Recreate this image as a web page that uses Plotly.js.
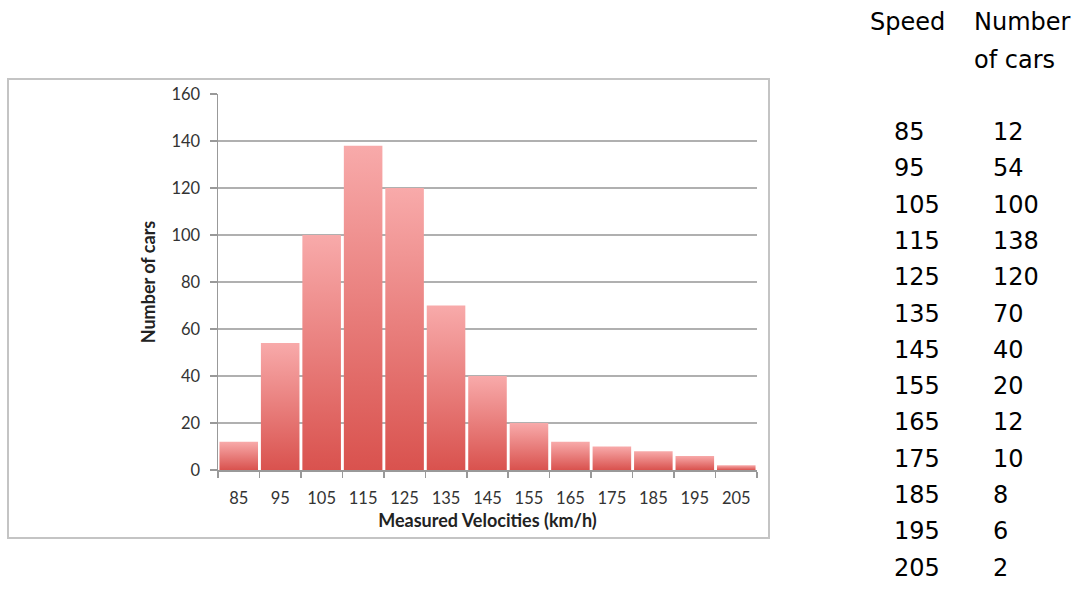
<!DOCTYPE html>
<html>
<head>
<meta charset="utf-8">
<script src="https://cdn.plot.ly/plotly-3.0.1.min.js"></script>
<style>
html,body{margin:0;padding:0;background:#fff;}
#chart{width:1075px;height:590px;}
</style>
</head>
<body>
<div id="chart"></div>
<script>
// ---- data ----
const speeds = ["85","95","105","115","125","135","145","155","165","175","185","195","205"];
const cars = [12, 54, 100, 138, 120, 70, 40, 20, 12, 10, 8, 6, 2];
const yTicks = [0, 20, 40, 60, 80, 100, 120, 140, 160];
const headerSpeed = "Speed";
const headerCars1 = "Number";
const headerCars2 = "of cars";
const xTitle = "Measured Velocities (km/h)";
const yTitle = "Number of cars";

// ---- geometry helpers (pixel -> paper) ----
const W = 1075, H = 590;
const L = 218, R = 757, T = 94, B = 470;
const px = x => (x - L) / (R - L);
const py = y => (B - y) / (B - T);

const annotations = [];
const tFont = {family: "DejaVu Sans", size: 24, color: "#000"};
annotations.push({xref:"paper", yref:"paper", x:px(869), y:py(22), xanchor:"left", yanchor:"middle", text:headerSpeed, showarrow:false, font:tFont, borderpad:0});
annotations.push({xref:"paper", yref:"paper", x:px(973), y:py(22), xanchor:"left", yanchor:"middle", text:headerCars1, showarrow:false, font:tFont, borderpad:0});
annotations.push({xref:"paper", yref:"paper", x:px(973), y:py(60), xanchor:"left", yanchor:"middle", text:headerCars2, showarrow:false, font:tFont, borderpad:0});
speeds.forEach((s, i) => {
  const yc = 132 + 36.3 * i;
  annotations.push({xref:"paper", yref:"paper", x:px(893), y:py(yc), xanchor:"left", yanchor:"middle", text:s, showarrow:false, font:tFont, borderpad:0});
  annotations.push({xref:"paper", yref:"paper", x:px(992), y:py(yc), xanchor:"left", yanchor:"middle", text:String(cars[i]), showarrow:false, font:tFont, borderpad:0});
});

const data = [{
  type: "bar",
  x: speeds,
  y: cars,
  marker: {color: "#e77773", line: {width: 0}},
  hoverinfo: "x+y"
}];

const layout = {
  width: W, height: H,
  margin: {l: L, r: W - R, t: T, b: H - B, pad: 0},
  paper_bgcolor: "#fff",
  plot_bgcolor: "#fff",
  showlegend: false,
  bargap: 0.07,
  font: {family: "Lato", color: "#333"},
  xaxis: {
    type: "category",
    tickson: "boundaries",
    ticks: "outside",
    ticklen: 6,
    tickcolor: "#999",
    tickwidth: 1.5,
    showline: true,
    linecolor: "#999",
    linewidth: 1.5,
    showgrid: false,
    tickfont: {family: "Lato", size: 16.5, color: "#333"},
    ticklabelstandoff: 13,
    title: {text: xTitle, font: {family: "Lato", size: 18, color: "#222", weight: "bold"}, standoff: 7},
    fixedrange: true
  },
  yaxis: {
    range: [0, 160],
    tickvals: yTicks,
    ticks: "outside",
    ticklen: 7,
    tickcolor: "#999",
    tickwidth: 1.5,
    showline: true,
    linecolor: "#999",
    linewidth: 1.5,
    showgrid: true,
    gridcolor: "#b0b0b0",
    gridwidth: 1.6,
    zeroline: false,
    tickfont: {family: "Lato", size: 16.5, color: "#333"},
    ticklabelstandoff: 6,
    title: {text: yTitle, font: {family: "Lato", size: 18, color: "#222", weight: "bold"}, standoff: 11},
    fixedrange: true
  },
  shapes: [{
    type: "rect", xref: "paper", yref: "paper",
    x0: px(8), x1: px(769), y0: py(538), y1: py(79),
    line: {color: "#c4c4c4", width: 2},
    fillcolor: "rgba(0,0,0,0)",
    layer: "below"
  }],
  annotations: annotations
};

Plotly.newPlot("chart", data, layout, {displayModeBar: false, staticPlot: true}).then(gd => {
  const svg = gd.querySelector("svg.main-svg");
  let defs = svg.querySelector("defs");
  if (!defs) { defs = document.createElementNS("http://www.w3.org/2000/svg", "defs"); svg.insertBefore(defs, svg.firstChild); }
  const ns = "http://www.w3.org/2000/svg";
  const grad = document.createElementNS(ns, "linearGradient");
  grad.setAttribute("id", "barGrad");
  grad.setAttribute("x1", "0"); grad.setAttribute("y1", "0");
  grad.setAttribute("x2", "0"); grad.setAttribute("y2", "1");
  [["0%", "#f8aaaa"], ["100%", "#d9524e"]].forEach(([o, c]) => {
    const st = document.createElementNS(ns, "stop");
    st.setAttribute("offset", o); st.setAttribute("stop-color", c);
    grad.appendChild(st);
  });
  defs.appendChild(grad);
  gd.querySelectorAll(".barlayer .point path").forEach(p => { p.style.fill = "url(#barGrad)"; });
});
</script>
</body>
</html>
